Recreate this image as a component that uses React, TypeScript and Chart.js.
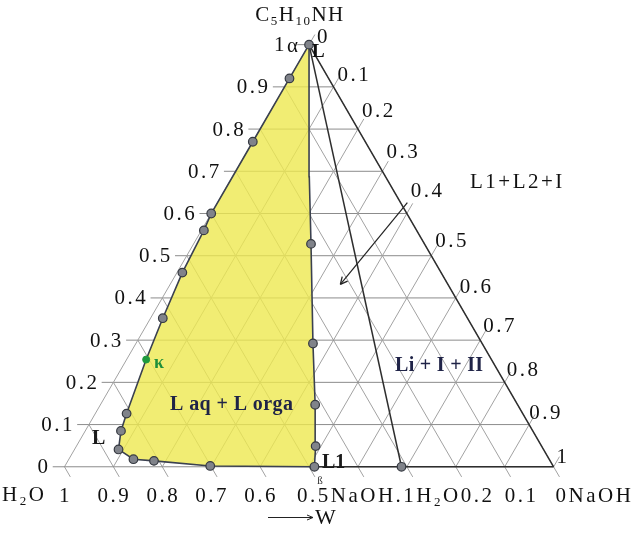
import React, { useEffect, useRef } from 'react';
import { Chart, registerables } from 'chart.js';

Chart.register(...registerables);

// ---------- data (ternary fractions: C = C5H10NH, W = H2O, NaOH = 1 - C - W) ----------
const TICKS = [0, 0.1, 0.2, 0.3, 0.4, 0.5, 0.6, 0.7, 0.8, 0.9, 1];
const LEFT_LABELS = ['0', '0.1', '0.2', '0.3', '0.4', '0.5', '0.6', '0.7', '0.8', '0.9'];
const RIGHT_LABELS = ['0', '0.1', '0.2', '0.3', '0.4', '0.5', '0.6', '0.7', '0.8', '0.9', '1'];
const BOTTOM_LABELS = ['1', '0.9', '0.8', '0.7', '0.6'];
const BOTTOM_LABEL_W = [1, 0.9, 0.8, 0.7, 0.6];

// two-phase region boundary (binodal + tie line), closed
const BOUNDARY_C = [1, 0.92, 0.77, 0.6, 0.56, 0.46, 0.352, 0.254, 0.126, 0.085, 0.041, 0.018, 0.014, 0.002, 0, 0.049, 0.147, 0.292, 0.528, 0.687, 1];
const BOUNDARY_W = [0, 0.08, 0.23, 0.4, 0.435, 0.529, 0.623, 0.706, 0.81, 0.842, 0.869, 0.85, 0.81, 0.701, 0.489, 0.462, 0.414, 0.346, 0.232, 0.156, 0];

// measured points
const DOTS_C = [1, 0.92, 0.77, 0.6, 0.56, 0.46, 0.352, 0.126, 0.085, 0.041, 0.018, 0.014, 0.002, 0, 0.049, 0.147, 0.292, 0.528, 0];
const DOTS_W = [0, 0.08, 0.23, 0.4, 0.435, 0.529, 0.623, 0.81, 0.842, 0.869, 0.85, 0.81, 0.701, 0.489, 0.462, 0.414, 0.346, 0.232, 0.311];
const KAPPA_C = [0.254];
const KAPPA_W = [0.706];

// NaOH.H2O line from the amine vertex
const HYDRATE_C = [1, 0];
const HYDRATE_W = [0, 0.311];
// solid line segment beta -> NaOH on the base
const BASE_C = [0, 0];
const BASE_W = [0.489, 0];
// right edge (H2O = 0)
const EDGE_C = [1, 0];
const EDGE_W = [0, 0];
// annotation arrow
const ARROW_C = [0.626, 0.432];
const ARROW_W = [-0.014, 0.22];

// ---------- layout ----------
const CW = 640;
const CH = 533;
const UNIT = 497.7; // px per unit side
const OX = 60; // px of H2O vertex
const OY = 471;
const DELTA = 0.024; // tick length (fraction)
const RIGHT_DX = [8, 4, 4, 4, 4, 4, 4, 3, 2, 0, 3];
const RIGHT_DY = [-7, -11, -18, -19, -22, -14, -10, -14, -12, -11, -9];

const SERIF = '"Liberation Serif", "DejaVu Serif", serif';
const SQ3 = Math.sqrt(3) / 2;

function toXY(c: number, w: number) {
  const n = 1 - c - w;
  return { x: n + c / 2, y: c * SQ3 };
}

type Seg = [string, boolean?];

function drawRich(
  ctx: CanvasRenderingContext2D,
  segs: Seg[],
  x: number,
  y: number,
  size: number,
  align: 'left' | 'right' | 'center',
  opts: { weight?: string; color?: string; spacing?: number } = {}
) {
  const weight = opts.weight || 'normal';
  const subSize = Math.round(size * 0.62);
  (ctx as any).letterSpacing = (opts.spacing ?? 2.5) + 'px';
  ctx.fillStyle = opts.color || '#111';
  ctx.textBaseline = 'middle';
  ctx.textAlign = 'left';
  const widths = segs.map(([t, sub]) => {
    ctx.font = `${weight} ${sub ? subSize : size}px ${SERIF}`;
    return ctx.measureText(t).width;
  });
  const total = widths.reduce((a, b) => a + b, 0);
  let cx = align === 'left' ? x : align === 'right' ? x - total : x - total / 2;
  segs.forEach(([t, sub], i) => {
    ctx.font = `${weight} ${sub ? subSize : size}px ${SERIF}`;
    ctx.fillText(t, cx, sub ? y + size * 0.3 : y);
    cx += widths[i];
  });
  (ctx as any).letterSpacing = '0px';
}

const labelsPlugin = {
  id: 'ternaryLabels',
  afterDatasetsDraw(chart: any) {
    const { ctx, scales } = chart;
    const px = (c: number, w: number) => {
      const p = toXY(c, w);
      return { x: scales.x.getPixelForValue(p.x), y: scales.y.getPixelForValue(p.y) };
    };
    ctx.save();

    // arrow head
    const a0 = px(ARROW_C[0], ARROW_W[0]);
    const a1 = px(ARROW_C[1], ARROW_W[1]);
    const ang = Math.atan2(a1.y - a0.y, a1.x - a0.x);
    ctx.strokeStyle = '#222';
    ctx.lineWidth = 1.3;
    ctx.beginPath();
    for (const s of [-0.45, 0.45]) {
      ctx.moveTo(a1.x, a1.y);
      ctx.lineTo(a1.x - 8 * Math.cos(ang + s), a1.y - 8 * Math.sin(ang + s));
    }
    ctx.stroke();

    // left axis labels (C5H10NH)
    LEFT_LABELS.forEach((lab, i) => {
      const c = TICKS[i];
      const p = px(c, 1 - c);
      drawRich(ctx, [[lab]], p.x - 14, p.y + 1, 21, 'right');
    });
    drawRich(ctx, [['1']], 287, 45, 21, 'right');
    drawRich(ctx, [['α']], 287, 46, 21, 'left', { spacing: 0 });

    // right axis labels (NaOH)
    RIGHT_LABELS.forEach((lab, i) => {
      const n = TICKS[i];
      const p = px(1 - n, 0);
      drawRich(ctx, [[lab]], p.x + RIGHT_DX[i], p.y + RIGHT_DY[i], 21, 'left');
    });

    // bottom axis labels (H2O)
    BOTTOM_LABELS.forEach((lab, i) => {
      const p = px(0, BOTTOM_LABEL_W[i]);
      drawRich(ctx, [[lab]], p.x + 1, 496, 21, 'center');
    });
    const p05 = px(0, 0.5);
    drawRich(ctx, [['0.5NaOH.1H'], ['2', true], ['O0.2']], p05.x - 12, 496, 21, 'left');
    const p01 = px(0, 0.1);
    drawRich(ctx, [['0.1']], p01.x, 496, 21, 'left');
    const p00 = px(0, 0);
    drawRich(ctx, [['0NaOH']], p00.x + 2, 496, 21, 'left');
    drawRich(ctx, [['H'], ['2', true], ['O']], 2, 495, 21, 'left');

    // axis arrow "-> W"
    ctx.strokeStyle = '#222';
    ctx.lineWidth = 1;
    ctx.beginPath();
    ctx.moveTo(268, 517.5);
    ctx.lineTo(313, 517.5);
    ctx.moveTo(313, 517.5);
    ctx.lineTo(307, 515);
    ctx.moveTo(313, 517.5);
    ctx.lineTo(307, 520);
    ctx.stroke();
    drawRich(ctx, [['W']], 315, 518, 22, 'left', { spacing: 0 });

    // title
    drawRich(ctx, [['C'], ['5', true], ['H'], ['10', true], ['NH']], 300, 15, 21, 'center', { spacing: 1.5 });

    // region labels
    const navy = '#1f2347';
    drawRich(ctx, [['L']], 312, 52, 19, 'left', { weight: 'bold', spacing: 0 });
    drawRich(ctx, [['L1+L2+I']], 470, 182, 21, 'left', { spacing: 2.5 });
    drawRich(ctx, [['Li + I + II']], 395, 366, 20, 'left', { weight: 'bold', color: navy, spacing: 0.3 });
    drawRich(ctx, [['L aq + L orga']], 170, 405, 20, 'left', { weight: 'bold', color: navy, spacing: 0.4 });
    drawRich(ctx, [['L']], 92, 439, 20, 'left', { weight: 'bold', color: '#1a1a1a', spacing: 0 });
    drawRich(ctx, [['L1']], 322, 463, 20, 'left', { weight: 'bold', color: '#1a1a1a', spacing: 0 });
    drawRich(ctx, [['ß']], 320, 481, 11, 'center', { spacing: 0, color: '#333' });
    drawRich(ctx, [['κ']], 154, 363, 18, 'left', { weight: 'bold', color: '#1e8f3a', spacing: 0 });

    ctx.restore();
  },
};

export default function App() {
  const ref = useRef<HTMLCanvasElement>(null);

  useEffect(() => {
    const canvas = ref.current;
    if (!canvas) return;
    const datasets: any[] = [];
    const addLine = (cs: number[], ws: number[], color: string, width: number, order: number, extra: any = {}) => {
      datasets.push({
        type: 'line',
        data: cs.map((c, i) => toXY(c, ws[i])),
        borderColor: color,
        borderWidth: width,
        pointRadius: 0,
        tension: 0,
        fill: false,
        order,
        ...extra,
      });
    };

    // grid + ticks
    for (const t of TICKS) {
      addLine([t, t], [1 - t + DELTA, 0], '#8c8c8c', 1, 20); // const C5H10NH
      addLine([0, 1 - t + DELTA], [1 - t, -DELTA], '#a2a2a2', 1, 20); // const NaOH
      addLine([1 - t, -DELTA], [t, t], '#a2a2a2', 1, 20); // const H2O
    }

    // two-phase region
    addLine(BOUNDARY_C, BOUNDARY_W, '#3b4150', 1.6, 10, {
      fill: 'shape',
      backgroundColor: 'rgba(238, 232, 80, 0.8)',
    });

    addLine(EDGE_C, EDGE_W, '#2e2e2e', 1.5, 5);
    addLine(BASE_C, BASE_W, '#2e2e2e', 1.5, 5);
    addLine(HYDRATE_C, HYDRATE_W, '#2e2e2e', 1.5, 5);
    addLine(ARROW_C, ARROW_W, '#222', 1.2, 5);

    datasets.push({
      type: 'scatter',
      data: DOTS_C.map((c, i) => toXY(c, DOTS_W[i])),
      pointRadius: 4.3,
      pointBackgroundColor: '#80838a',
      pointBorderColor: '#363a42',
      pointBorderWidth: 1.2,
      showLine: false,
      order: 1,
    });
    datasets.push({
      type: 'scatter',
      data: KAPPA_C.map((c, i) => toXY(c, KAPPA_W[i])),
      pointRadius: 3.5,
      pointBackgroundColor: '#1f9a3e',
      pointBorderColor: '#1f9a3e',
      pointBorderWidth: 1,
      showLine: false,
      order: 1,
    });

    const chart = new Chart(canvas, {
      type: 'scatter',
      data: { datasets },
      options: {
        responsive: false,
        maintainAspectRatio: false,
        animation: false,
        events: [],
        layout: { padding: 0 },
        scales: {
          x: { type: 'linear', display: false, min: -OX / UNIT, max: (CW - OX) / UNIT },
          y: { type: 'linear', display: false, min: -(CH - OY) / UNIT, max: OY / UNIT },
        },
        plugins: {
          legend: { display: false },
          tooltip: { enabled: false },
        },
      },
      plugins: [labelsPlugin],
    } as any);

    return () => chart.destroy();
  }, []);

  return (
    <div style={{ position: 'fixed', left: 0, top: 0, width: CW, height: CH, background: '#fff' }}>
      <canvas ref={ref} width={CW} height={CH} style={{ display: 'block' }} />
    </div>
  );
}
